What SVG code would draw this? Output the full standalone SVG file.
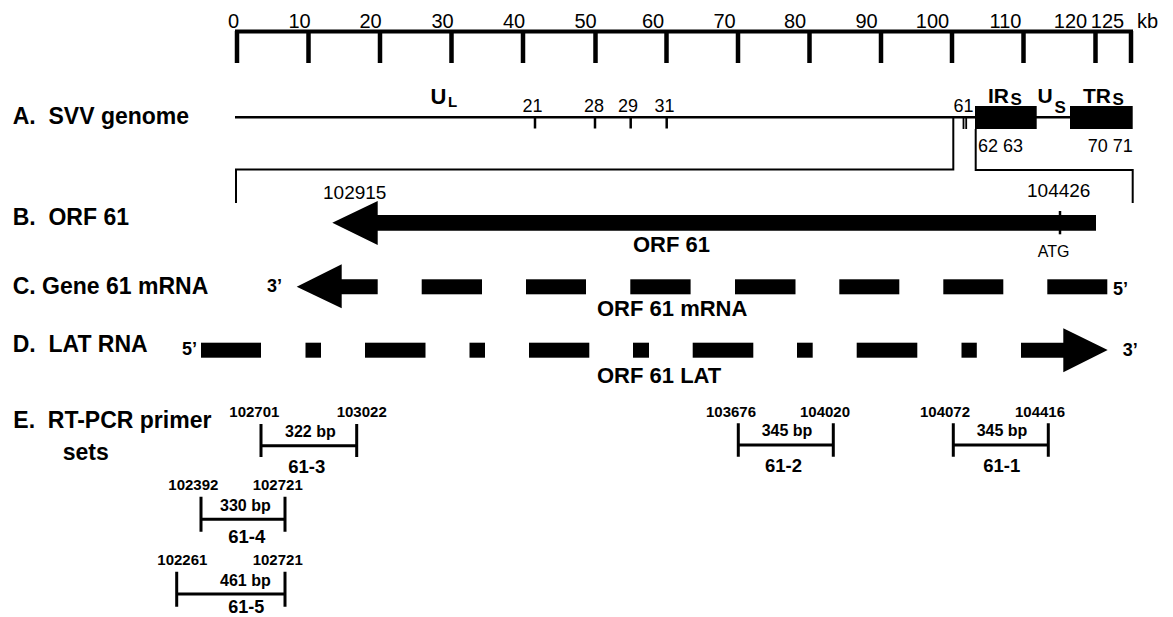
<svg xmlns="http://www.w3.org/2000/svg" width="1173" height="617" viewBox="0 0 1173 617">
<style>
text{font-family:"Liberation Sans",Arial,Helvetica,sans-serif;fill:#000}
.lab{font-size:23px;font-weight:bold}
.sc{font-size:20px;text-anchor:middle}
.gn{font-size:18px;text-anchor:middle}
.pos{font-size:19px}
.b22{font-size:22px;font-weight:bold}
.end{font-size:18px;font-weight:bold}
.pn{font-size:15px;font-weight:bold}
.bp{font-size:16px;font-weight:bold}
.pid{font-size:18.5px;font-weight:bold}
.ln{stroke:#000;fill:none}
.blk{fill:#000}
</style>
<g id="scale">
<line class="ln" x1="235" y1="31.5" x2="1133" y2="31.5" stroke-width="4"/>
<g class="ln" stroke-width="4.5">
<line x1="237" y1="31" x2="237" y2="63"/>
<line x1="308.5" y1="31" x2="308.5" y2="63"/>
<line x1="380" y1="31" x2="380" y2="63"/>
<line x1="451.5" y1="31" x2="451.5" y2="63"/>
<line x1="523" y1="31" x2="523" y2="63"/>
<line x1="595.5" y1="31" x2="595.5" y2="63"/>
<line x1="666.5" y1="31" x2="666.5" y2="63"/>
<line x1="738" y1="31" x2="738" y2="63"/>
<line x1="809.5" y1="31" x2="809.5" y2="63"/>
<line x1="881" y1="31" x2="881" y2="63"/>
<line x1="952" y1="31" x2="952" y2="63"/>
<line x1="1023.5" y1="31" x2="1023.5" y2="63"/>
<line x1="1095.5" y1="31" x2="1095.5" y2="63"/>
<line x1="1131" y1="31" x2="1131" y2="63"/>
</g>
<text class="sc" x="233.5" y="28">0</text>
<text class="sc" x="299.5" y="28">10</text>
<text class="sc" x="370.5" y="28">20</text>
<text class="sc" x="442.5" y="28">30</text>
<text class="sc" x="514" y="28">40</text>
<text class="sc" x="585.5" y="28">50</text>
<text class="sc" x="653" y="28">60</text>
<text class="sc" x="724.5" y="28">70</text>
<text class="sc" x="795" y="28">80</text>
<text class="sc" x="866.5" y="28">90</text>
<text class="sc" x="932.5" y="28">100</text>
<text class="sc" x="1005.5" y="28">110</text>
<text class="sc" x="1070.5" y="28">120</text>
<text class="sc" x="1107.5" y="28">125</text>
<text x="1137" y="28" style="font-size:20px">kb</text>
</g>
<g id="labels">
<text class="lab" x="12.7" y="124.3">A.&#160; SVV genome</text>
<text class="lab" x="12.7" y="225">B.&#160; ORF 61</text>
<text class="lab" x="12.7" y="294">C. Gene 61 mRNA</text>
<text class="lab" x="12.7" y="351.7">D.&#160; LAT RNA</text>
<text class="lab" x="13.3" y="428">E.&#160; RT-PCR primer</text>
<text class="lab" x="62.7" y="460">sets</text>
</g>
<g id="genome">
<line class="ln" x1="235" y1="117.3" x2="976" y2="117.3" stroke-width="2.5"/>
<line class="ln" x1="1036" y1="117.3" x2="1071" y2="117.3" stroke-width="2.5"/>
<rect class="blk" x="975" y="106" width="61.7" height="23"/>
<rect class="blk" x="1070" y="106" width="62.7" height="23"/>
<g class="ln" stroke-width="2.5">
<line x1="535" y1="117" x2="535" y2="128.5"/>
<line x1="595" y1="117" x2="595" y2="128.5"/>
<line x1="630.7" y1="117" x2="630.7" y2="128.5"/>
<line x1="666.7" y1="117" x2="666.7" y2="128.5"/>
</g>
<line class="ln" x1="963.5" y1="118" x2="963.5" y2="129" stroke-width="1.8"/>
<line class="ln" x1="966.2" y1="118" x2="966.2" y2="129" stroke-width="1.8"/>
<text class="gn" x="532.5" y="111.5">21</text>
<text class="gn" x="594" y="111.5">28</text>
<text class="gn" x="628" y="111.5">29</text>
<text class="gn" x="664.5" y="111.5">31</text>
<text class="gn" x="963.5" y="111.5">61</text>
<text x="978" y="151.5" style="font-size:18px">62 63</text>
<text x="1132.7" y="151.5" style="font-size:18px;text-anchor:end">70 71</text>
<text x="430.5" y="104" style="font-size:22px;font-weight:bold">U</text>
<text x="448" y="106.7" style="font-size:15px;font-weight:bold">L</text>
<text x="988" y="103" style="font-size:21px;font-weight:bold">IR</text>
<text x="1010.5" y="105" style="font-size:17px;font-weight:bold">S</text>
<text x="1037.5" y="103" style="font-size:21px;font-weight:bold">U</text>
<text x="1054.5" y="112.5" style="font-size:17px;font-weight:bold">S</text>
<text x="1083" y="103" style="font-size:21px;font-weight:bold">TR</text>
<text x="1112.5" y="105" style="font-size:17px;font-weight:bold">S</text>
</g>
<g id="connectors">
<path class="ln" stroke-width="2" d="M236,203 V169.5 H953.3 V117"/>
<path class="ln" stroke-width="2" d="M975.7,129 V170 H1132.7 V203"/>
</g>
<g id="orf61">
<polygon class="blk" points="332.3,222.7 377.7,201 377.7,215 1096,215 1096,230.7 377.7,230.7 377.7,245"/>
<line class="ln" x1="1060" y1="211" x2="1060" y2="234.3" stroke-width="2.5"/>
<text class="pos" x="323" y="198.5">102915</text>
<text class="pos" x="1027" y="196.7">104426</text>
<text class="b22" x="633" y="251.5">ORF 61</text>
<text x="1037.7" y="256.7" style="font-size:16px">ATG</text>
</g>
<g id="mrna">
<polygon class="blk" points="296.7,286.7 341.7,264.3 341.7,279.3 377.7,279.3 377.7,294.3 341.7,294.3 341.7,308.3"/>
<g class="blk">
<rect x="421.7" y="279.3" width="60.3" height="15"/>
<rect x="526" y="279.3" width="60" height="15"/>
<rect x="630.3" y="279.3" width="60.3" height="15"/>
<rect x="735" y="279.3" width="60.5" height="15"/>
<rect x="839.3" y="279.3" width="60" height="15"/>
<rect x="943.3" y="279.3" width="60" height="15"/>
<rect x="1047.3" y="279.3" width="60" height="15"/>
</g>
<text class="end" x="267" y="291.7">3’</text>
<text class="end" x="1113" y="295">5’</text>
<text class="b22" x="597" y="315.5">ORF 61 mRNA</text>
</g>
<g id="lat">
<g class="blk">
<rect x="201" y="342.7" width="60" height="15"/>
<rect x="305.5" y="342.7" width="15.5" height="15"/>
<rect x="365" y="342.7" width="60.5" height="15"/>
<rect x="469.5" y="342.7" width="15.5" height="15"/>
<rect x="529" y="342.7" width="60.3" height="15"/>
<rect x="633" y="342.7" width="16" height="15"/>
<rect x="692.7" y="342.7" width="60.6" height="15"/>
<rect x="797" y="342.7" width="15.7" height="15"/>
<rect x="856.7" y="342.7" width="60.6" height="15"/>
<rect x="961.5" y="342.7" width="15.3" height="15"/>
</g>
<polygon class="blk" points="1021,342.7 1063.3,342.7 1063.3,328.3 1107.7,350 1063.3,372.3 1063.3,357.7 1021,357.7"/>
<text class="end" x="182" y="355">5’</text>
<text class="end" x="1122.7" y="356">3’</text>
<text class="b22" x="597" y="383">ORF 61 LAT</text>
</g>
<g id="primer-61-3">
<text class="pn" x="229.3" y="416.5">102701</text>
<text class="pn" x="336.7" y="416.5">103022</text>
<path class="ln" stroke-width="3" d="M261,424 V457 M356.7,424 V457 M261,445.7 H356.7"/>
<text class="bp" x="285" y="436.5">322 bp</text>
<text class="pid" x="288.3" y="472.7">61-3</text>
</g>
<g id="primer-61-4">
<text class="pn" x="168.3" y="490">102392</text>
<text class="pn" x="252.7" y="490">102721</text>
<path class="ln" stroke-width="3" d="M201,496.7 V531.7 M285,496.7 V531.7 M201,519.3 H285"/>
<text class="bp" x="220" y="511">330 bp</text>
<text class="pid" x="228.3" y="543.3">61-4</text>
</g>
<g id="primer-61-5">
<text class="pn" x="157.3" y="565">102261</text>
<text class="pn" x="252.7" y="565">102721</text>
<path class="ln" stroke-width="3" d="M176.7,571.7 V606.7 M285,571.7 V606.7 M176.7,594 H285"/>
<text class="bp" x="220" y="586">461 bp</text>
<text class="pid" x="228.3" y="613" style="font-size:18px">61-5</text>
</g>
<g id="primer-61-2">
<text class="pn" x="706" y="416.7">103676</text>
<text class="pn" x="800" y="416.7">104020</text>
<path class="ln" stroke-width="3" d="M738.3,423.3 V456.7 M833.3,423.3 V456.7 M738.3,445 H833.3"/>
<text class="bp" x="761.7" y="436">345 bp</text>
<text class="pid" x="765" y="471.7">61-2</text>
</g>
<g id="primer-61-1">
<text class="pn" x="920" y="416.7">104072</text>
<text class="pn" x="1015" y="416.7">104416</text>
<path class="ln" stroke-width="3" d="M953.3,423.3 V456.7 M1048.3,423.3 V456.7 M953.3,445 H1048.3"/>
<text class="bp" x="976.7" y="436">345 bp</text>
<text class="pid" x="983.3" y="471.7">61-1</text>
</g>
</svg>
